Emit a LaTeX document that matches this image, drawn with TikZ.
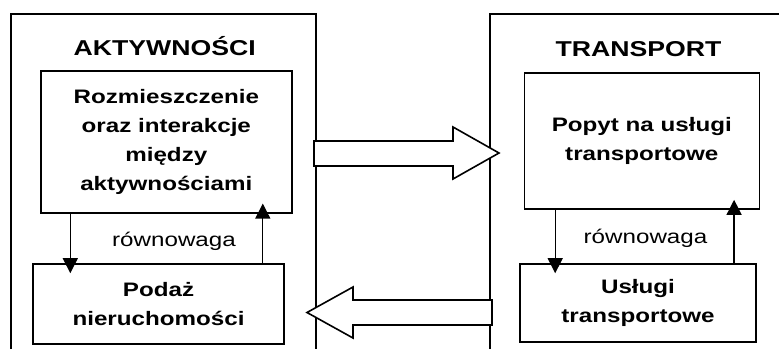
\documentclass[tikz,border=0pt]{standalone}
\usepackage{fontspec}
\setmainfont{Liberation Sans}[FakeStretch=1.24]
\usepackage{tikz}
\usetikzlibrary{arrows.meta,calc,positioning}

\begin{document}
\begin{tikzpicture}[x=1pt,y=-1pt,>={Triangle[length=15pt,width=15pt]},
  frame/.style={line width=1.6pt,line join=miter},
  innerbox/.style={draw,line width=1.6pt,align=center,inner sep=0pt,
    font=\bfseries\fontsize{19.5}{29}\selectfont},
  headline/.style={anchor=base,font=\bfseries\fontsize{21.5}{25}\selectfont},
  eqlabel/.style={anchor=base,font=\fontsize{19.5}{23}\selectfont},
  eqarrow/.style={->,line width=1.3pt,shorten >=-10pt},
  bigarrow/.style={line width=1.6pt,fill=white,line join=miter}]
 \useasboundingbox (0,0) rectangle (779,349);
 % the two open frames
 \draw[frame] (11,349) |- (316,14) -- (316,349);
 \draw[frame] (490,349) |- (779,14);
 \node[headline] (akt) at (164.7,55) {AKTYWNOŚCI};
 \node[headline] (trans) at (638.5,56.7) {TRANSPORT};
 % left side
 \node[innerbox,minimum width=251,minimum height=142] (lt) at (166.3,141.8)
  {Rozmieszczenie\\oraz interakcje\\między\\aktywnościami};
 \node[innerbox,minimum width=251,minimum height=80] (lb) at (158.5,304)
  {Podaż\\nieruchomości};
 \draw[eqarrow] ([xshift=30.3pt]lt.south west) coordinate (ld) -- (ld |- lb.north);
 \draw[eqarrow] ([xshift=-22pt]lb.north east) coordinate (lu) -- (lu |- lt.south);
 \node[eqlabel] (leq) at (174,246) {równowaga};
 % right side
 \node[innerbox,minimum width=235,minimum height=136] (rt) at (641.8,141)
  {Popyt na usługi\\transportowe};
 \node[innerbox,minimum width=236,minimum height=78] (rb) at (638,303)
  {Usługi\\transportowe};
 \draw[eqarrow] ([xshift=31.7pt]rt.south west) coordinate (rd) -- (rd |- rb.north);
 \draw[eqarrow] ([xshift=-22.7pt]rb.north east) coordinate (ru) -- (ru |- rt.south);
 \node[eqlabel] (req) at (645.5,243.5) {równowaga};
 % block arrows between the frames
 \draw[bigarrow] (314,141) -- (453,141) -- (453,127) -- (499,153)
  -- (453,179) -- (453,166) -- (314,166) -- cycle;
 \draw[bigarrow] (492,300) -- (353,300) -- (353,287) -- (307,312.5)
  -- (353,338) -- (353,325) -- (492,325) -- cycle;
\end{tikzpicture}
\end{document}
